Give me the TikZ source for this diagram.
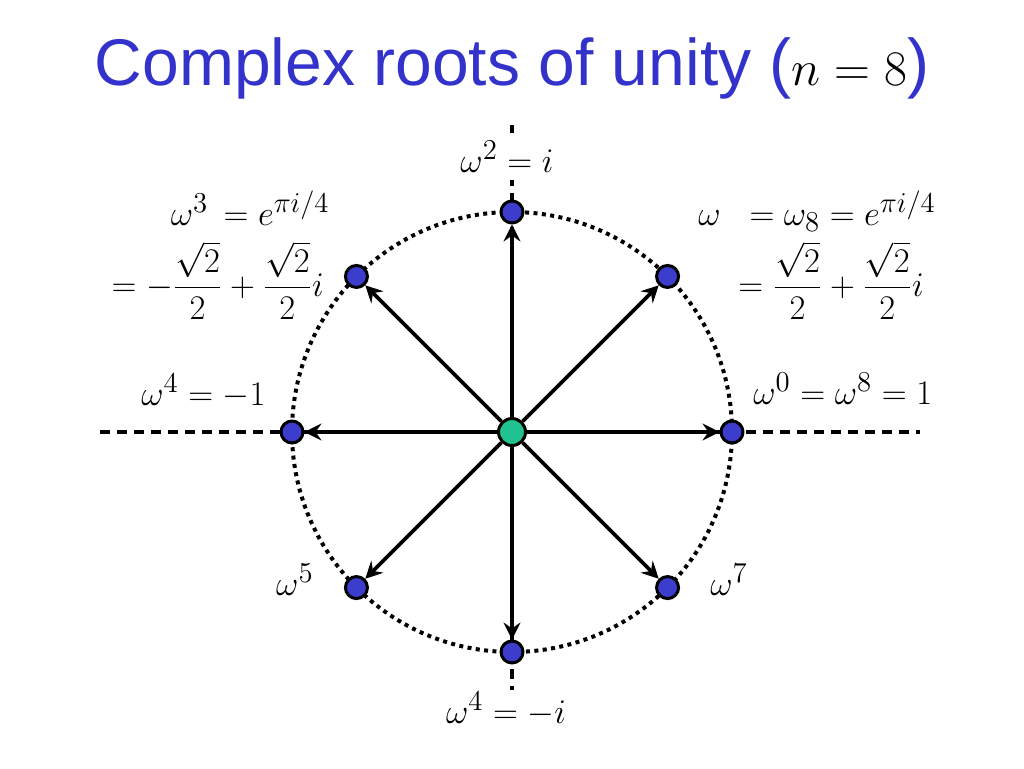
\documentclass[tikz,border=0pt]{standalone}
\usepackage{amsmath}
\usepackage{fontspec}
\newfontfamily\titlefont{Liberation Sans}
\usetikzlibrary{arrows.meta}
\definecolor{titleblue}{RGB}{51,51,204}
\definecolor{rootblue}{RGB}{60,60,205}
\definecolor{centergreen}{RGB}{30,195,145}
\tikzset{
 root/.style={circle, draw=black, line width=1.5pt, fill=rootblue, minimum size=11pt, inner sep=0pt},
 origin/.style={circle, draw=black, line width=1.5pt, fill=centergreen, minimum size=13.5pt, inner sep=0pt},
 vec/.style={line width=1.8pt, -{Stealth[length=8.5pt,width=8.5pt,inset=3pt]}},
 unitcircle/.style={line width=2pt, dash pattern=on 2pt off 2.2pt},
 axis/.style={line width=1.7pt, dash pattern=on 5pt off 3.5pt},
 lbl/.style={font=\fontsize{19}{23}\selectfont, inner sep=0pt, anchor=base},
}
\begin{document}
\begin{tikzpicture}[x=0.5pt,y=-0.5pt]
\useasboundingbox[fill=white] (0,0) rectangle (1024,768);
% title
\node[anchor=base, text=titleblue, font=\titlefont\fontsize{33}{39}\selectfont] (title) at (512,85)
  {Complex roots of unity (\textcolor{black}{$n = 8$})};
% axes
\coordinate (hl) at (100,432);
\coordinate (hr) at (920,432);
\coordinate (vt) at (512,125);
\coordinate (vb) at (512,690);
\draw[axis] (hl) -- (hr);
\draw[axis] (vt) -- (vb);
% unit circle
\coordinate (c) at (512,432);
\draw[unitcircle] (c) circle[radius=220];
% roots
\node[origin] (o) at (c) {};
\foreach \k in {0,...,7}
  \node[root] (r\k) at ({512+220*cos(45*\k)},{432-220*sin(45*\k)}) {};
\foreach \k in {0,...,7}
  \draw[vec] (o) -- (r\k);
% labels
\node[lbl, fill=white, inner sep=4pt] (l2) at (507,172) {$\omega^2 = i$};
\node[lbl, anchor=base east] (l3a) at (330,225) {$\omega^3\,= e^{\pi i/4}$};
\node[lbl, anchor=base east] (l3b) at (324,296) {$= -\dfrac{\sqrt{2}}{2} + \dfrac{\sqrt{2}}{2}i$};
\node[lbl, anchor=base west] (l1a) at (698,225) {$\omega\;\;= \omega_8 = e^{\pi i/4}$};
\node[lbl, anchor=base west] (l1b) at (738,296) {$= \dfrac{\sqrt{2}}{2} + \dfrac{\sqrt{2}}{2}i$};
\node[lbl, anchor=base east] (l4) at (266,405) {$\omega^4 = -1$};
\node[lbl, anchor=base west] (l0) at (753,404) {$\omega^0 = \omega^8 = 1$};
\node[lbl, anchor=base east] (l5) at (314,595) {$\omega^5$};
\node[lbl, anchor=base west] (l7) at (710,595) {$\omega^7$};
\node[lbl] (l6) at (506,723) {$\omega^4 = -i$};
\end{tikzpicture}
\end{document}
